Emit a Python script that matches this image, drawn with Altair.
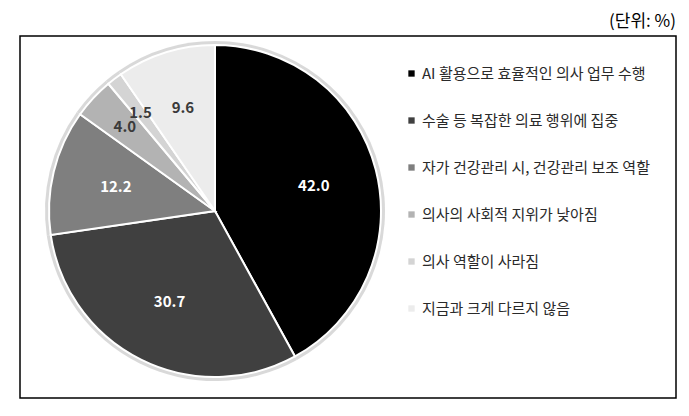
import altair as alt
import pandas as pd

categories = [
    "AI 활용으로 효율적인 의사 업무 수행",
    "수술 등 복잡한 의료 행위에 집중",
    "자가 건강관리 시, 건강관리 보조 역할",
    "의사의 사회적 지위가 낮아짐",
    "의사 역할이 사라짐",
    "지금과 크게 다르지 않음",
]
values = [42.0, 30.7, 12.2, 4.0, 1.5, 9.6]
colors = ["#000000", "#404040", "#7f7f7f", "#b3b3b3", "#d4d4d4", "#ececec"]

df = pd.DataFrame({"category": categories, "value": values, "order": list(range(len(values)))})

FONT = "Noto Sans CJK KR"
CX, CY, R = 195, 175, 166

base = alt.Chart(df).encode(
    theta=alt.Theta("value:Q", stack=True),
    order=alt.Order("order:Q"),
    x=alt.value(CX),
    y=alt.value(CY),
)

shadow = base.mark_arc(radius=R + 4, color="#cfcfcf", opacity=0.8)

pie = base.mark_arc(radius=R, stroke="white", strokeWidth=2).encode(
    color=alt.Color(
        "category:N",
        scale=alt.Scale(domain=categories, range=colors),
        sort=categories,
        legend=alt.Legend(
            title=None,
            orient="none",
            legendX=384,
            legendY=30,
            symbolType="square",
            symbolSize=40,
            symbolStrokeWidth=0,
            labelFont=FONT,
            labelFontSize=15,
            labelColor="#2a2a2a",
            labelLimit=400,
            rowPadding=31,
            labelOffset=3,
        ),
    )
)

white_lab = base.transform_calculate(
    lab="datum.value >= 10 ? format(datum.value, '.1f') : ''"
).mark_text(radius=102, fontSize=15, fontWeight="bold", font=FONT, color="white").encode(
    text="lab:N"
)

dark_near = base.transform_calculate(
    lab="datum.value < 10 && datum.value >= 5 ? format(datum.value, '.1f') : ''"
).mark_text(radius=108, fontSize=15, fontWeight="bold", font=FONT, color="#3a3a3a").encode(
    text="lab:N"
)

dark_far = base.transform_calculate(
    lab="datum.value < 5 ? format(datum.value, '.1f') : ''"
).mark_text(radius=123, fontSize=15, fontWeight="bold", font=FONT, color="#3a3a3a").encode(
    text="lab:N"
)

chart = (
    alt.layer(shadow, pie, white_lab, dark_near, dark_far)
    .properties(
        width=656,
        height=362,
        autosize="none",
        padding={"left": 12, "top": 28, "right": 5, "bottom": 5},
        title=alt.TitleParams(
            "(단위: %)", anchor="end", fontSize=17, fontWeight="normal", font=FONT, color="#000000", offset=5
        ),
    )
    .configure_view(stroke="black", strokeWidth=1.5)
)

chart.save("out.html", embed_options={"renderer": "svg", "actions": False})
